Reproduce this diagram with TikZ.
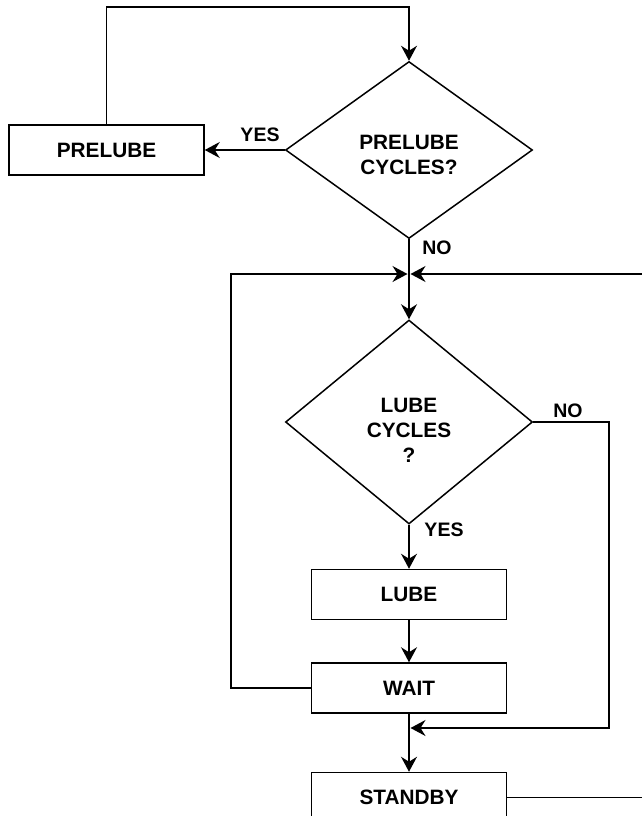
\documentclass[tikz,border=0pt]{standalone}
\usepackage{fontspec}
\setmainfont{Liberation Sans}
\usetikzlibrary{shapes.geometric, arrows.meta, positioning}

\begin{document}
\begin{tikzpicture}[x=1pt, y=-1pt, line width=1.5pt,
        every node/.style={font=\bfseries\fontsize{20.8}{25}\selectfont},
        block/.style={draw, rectangle, minimum width=195pt, minimum height=50pt, inner sep=0pt},
        decision/.style={draw, diamond, minimum width=247pt, inner sep=0pt, align=center},
        lbl/.style={font=\bfseries\fontsize{19.5}{23}\selectfont, inner sep=0pt},
        flow/.style={-{Stealth[length=15pt, width=16pt, inset=5pt]}}]
        \path[use as bounding box, fill=white] (0,0) rectangle (641,816);
        % main column
        \node[decision, minimum height=177pt, text height=48pt, text depth=0pt] (prelubeq) at (409,150) {PRELUBE\\CYCLES?};
        \node[block, left=80pt of prelubeq] (prelube) {PRELUBE};
        \node[decision, minimum height=204pt, text height=96pt, text depth=15pt, below=80pt of prelubeq] (lubeq) {LUBE\\CYCLES\\?};
        \node[block, below=44pt of lubeq] (lube) {LUBE};
        \node[block, below=42pt of lube] (wait) {WAIT};
        \node[block, below=58pt of wait] (standby) {STANDBY};
        % bends and joins
        \coordinate (topbend) at (409,7);
        \coordinate (join) at (409,274);
        \coordinate (join2) at (409,728);
        \coordinate (leftbend) at (231,274);
        \coordinate (rightbend) at (660,274);
        \coordinate (nobend) at (609,728);
        % labels
        \node[lbl] (yes1) at (260,135) {YES};
        \node[lbl] (no1) at (437,248) {NO};
        \node[lbl] (no2) at (568,411) {NO};
        \node[lbl] (yes2) at (444,530) {YES};
        % connectors
        \draw[flow] (prelube.north) |- (topbend) -- (prelubeq.north);
        \draw[flow] (prelubeq.west) -- (prelube.east);
        \draw[flow] (prelubeq.south) -- (lubeq.north);
        \draw[flow] (lubeq.south) -- (lube.north);
        \draw[flow] (lube.south) -- (wait.north);
        \draw[flow] (wait.south) -- (standby.north);
        \draw[flow, shorten >=1.5pt] (wait.west) -| (leftbend) -- (join);
        \draw[flow, shorten >=1.5pt] (standby.east) -| (rightbend) -- (join);
        \draw[flow, shorten >=1.5pt] (lubeq.east) -| (nobend) -- (join2);
    \end{tikzpicture}
\end{document}
